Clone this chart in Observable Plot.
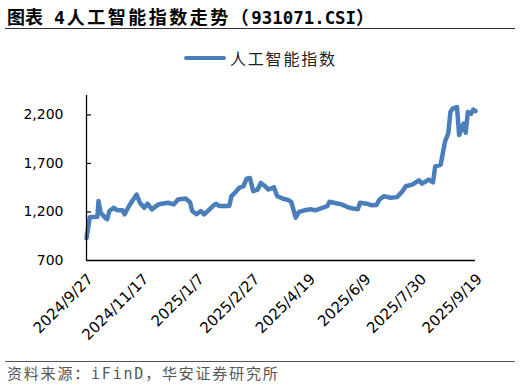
<!DOCTYPE html>
<html><head><meta charset="utf-8">
<script src="https://cdn.jsdelivr.net/npm/d3@7"></script>
<script src="https://cdn.jsdelivr.net/npm/@observablehq/plot@0.6"></script>
<style>
body{margin:0;background:#fff;}
#wrap{position:relative;width:521px;height:389px;overflow:hidden;font-family:"Noto Sans CJK SC",sans-serif;}
#title{position:absolute;left:7px;top:6px;font-size:18px;line-height:20px;font-weight:bold;color:#000;white-space:pre;}
.mono{font-family:"DejaVu Sans Mono",monospace;}
#rule1{position:absolute;left:5px;top:28px;width:510px;height:1px;background:#333;}
#legend{position:absolute;left:184px;top:48px;height:20px;display:flex;align-items:center;white-space:nowrap;}
#legend .sw{width:42px;height:4.5px;background:#4A7EBB;border-radius:2px;}
#legend .lab{margin-left:4px;font-size:16px;letter-spacing:1.8px;color:#222;}
#chart{position:absolute;left:0;top:70px;}
#rule2{position:absolute;left:5px;top:361px;width:510px;height:1px;background:#555;}
#caption{position:absolute;left:7px;top:365px;font-size:15px;line-height:19px;letter-spacing:1.8px;color:#555;white-space:nowrap;font-family:"DejaVu Sans Mono","Noto Sans CJK SC",monospace;}
</style></head>
<body>
<div id="wrap">
  <div id="title"><span>图表</span><span class="mono" style="margin-left:11px;margin-right:2px">4</span><span style="letter-spacing:2.5px">人工智能指数走势（</span><span class="mono" style="font-size:17.4px">931071.CSI</span><span>）</span></div>
  <div id="rule1"></div>
  <div id="legend"><div class="sw"></div><div class="lab">人工智能指数</div></div>
  <div id="chart"></div>
  <div id="rule2"></div>
  <div id="caption">资料来源：iFinD，华安证券研究所</div>
</div>
<script>
const dates = [
"2024-09-27","2024-09-30","2024-10-07","2024-10-08","2024-10-10","2024-10-14","2024-10-16","2024-10-18",
"2024-10-22","2024-10-25","2024-10-30","2024-11-01","2024-11-05","2024-11-08","2024-11-12","2024-11-15",
"2024-11-19","2024-11-22","2024-11-26","2024-12-02","2024-12-05","2024-12-11","2024-12-16","2024-12-20",
"2024-12-27","2024-12-31","2025-01-02","2025-01-06","2025-01-10","2025-01-13","2025-01-17","2025-01-22",
"2025-01-24","2025-01-27","2025-02-05","2025-02-07","2025-02-11","2025-02-14","2025-02-18","2025-02-21",
"2025-02-24","2025-02-27","2025-03-03","2025-03-06","2025-03-10","2025-03-13","2025-03-18","2025-03-21",
"2025-03-26","2025-04-01","2025-04-03","2025-04-07","2025-04-10","2025-04-15","2025-04-21","2025-04-25",
"2025-05-06","2025-05-08","2025-05-12","2025-05-19","2025-05-26","2025-06-03","2025-06-05","2025-06-11",
"2025-06-16","2025-06-20","2025-06-23","2025-06-27","2025-07-03","2025-07-09","2025-07-14","2025-07-17",
"2025-07-23","2025-07-29","2025-08-01","2025-08-07","2025-08-11","2025-08-13","2025-08-18","2025-08-20",
"2025-08-22","2025-08-25","2025-08-27","2025-08-29","2025-09-02","2025-09-04","2025-09-08","2025-09-10",
"2025-09-12","2025-09-15","2025-09-17","2025-09-19"];
const values = [
930,1145,1150,1312,1193,1142,1125,1210,
1244,1217,1217,1176,1261,1312,1380,1295,
1244,1285,1227,1278,1285,1295,1278,1329,
1339,1300,1210,1176,1210,1176,1217,1271,
1285,1261,1261,1363,1407,1448,1465,1543,
1550,1414,1431,1499,1465,1431,1455,1363,
1339,1319,1300,1142,1200,1217,1227,1217,
1261,1305,1295,1278,1244,1227,1295,1285,
1268,1271,1329,1363,1346,1353,1414,1465,
1482,1526,1492,1533,1506,1669,1686,1805,
1924,2009,2230,2264,2281,1992,2111,2016,
2230,2213,2254,2240];
const xTickDates = ["2024-09-27","2024-11-17","2025-01-07","2025-02-27","2025-04-19","2025-06-09","2025-07-30","2025-09-19"];
const yTicks = [700,1200,1700,2200];
const yDomain = [700,2400];
const xDomain = ["2024-09-27","2025-09-19"];

const data = dates.map((d,i)=>({date:new Date(d), value:values[i]}));
const chart = Plot.plot({
  width:521, height:290,
  marginLeft:86, marginRight:46, marginTop:25, marginBottom:100,
  x:{type:"utc", domain:xDomain.map(d=>new Date(d)), label:null},
  y:{domain:yDomain, label:null},
  style:{fontFamily:"DejaVu Sans, sans-serif", fontSize:"14px", color:"#000", background:"transparent", overflow:"visible"},
  marks:[
    Plot.axisY({ticks:yTicks, tickSize:0, tickPadding:23, tickFormat:d3.format(","), fontSize:14, label:null}),
    Plot.axisY({ticks:yTicks.slice(1), tickSize:5, dx:5, tickFormat:()=>null, strokeWidth:1.2, label:null}),
    Plot.axisX({ticks:xTickDates.map(d=>new Date(d)), tickSize:0, tickPadding:16, dx:4, tickRotate:-45,
      tickFormat:d3.utcFormat("%Y/%-m/%-d"), fontSize:15, label:null}),
    Plot.lineY(data,{x:"date", y:"value", stroke:"#4A7EBB", strokeWidth:4.5, curve:"linear"}),
    Plot.ruleX([new Date(xDomain[0])],{stroke:"#000", strokeWidth:1.3}),
    Plot.ruleY([yDomain[0]],{stroke:"#000", strokeWidth:1.3})
  ]
});
document.getElementById("chart").appendChild(chart);
</script>
</body></html>
